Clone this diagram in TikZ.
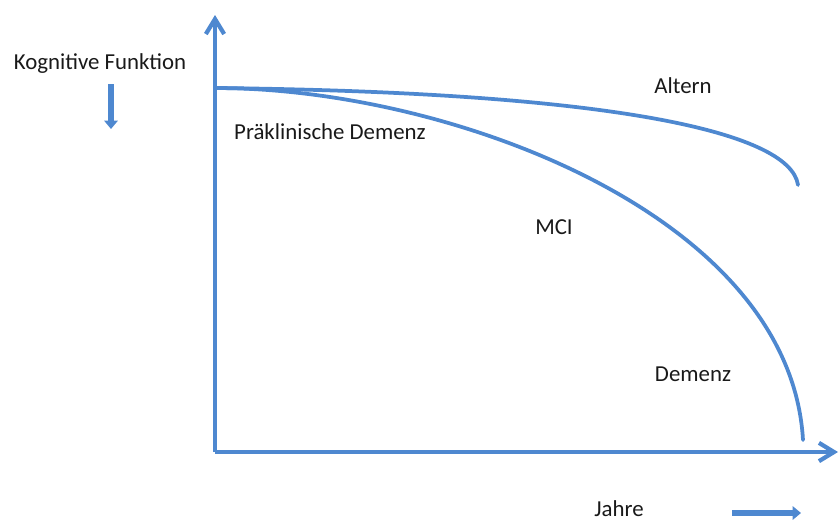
\documentclass[tikz,border=0pt]{standalone}
\usepackage{fontspec}
\setmainfont{Carlito}
\usetikzlibrary{arrows.meta}

\definecolor{curveblue}{RGB}{78,136,208}

\begin{document}
\begin{tikzpicture}[x=0.03cm, y=-0.03cm,
    axis/.style={draw=curveblue, line width=3.6pt, -{Straight Barb[length=4.5mm, width=5.5mm]}},
    curve/.style={draw=curveblue, line width=3.2pt, line cap=round},
    hint/.style={draw=curveblue, line width=5pt, -{Triangle[length=2.5mm, width=4mm]}},
    label/.style={font=\fontsize{19.5}{23}\selectfont, text=black!90, inner sep=1pt}]
    \useasboundingbox (0,0) rectangle (839,523);  % Fixes the page size

    % Points
    \coordinate (origin) at (215,452);  % Corner of the two axes
    \coordinate (ytop) at (215,15);  % Tip of the vertical axis
    \coordinate (xend) at (838,452);  % Tip of the horizontal axis
    \coordinate (start) at (215,88);  % Common start of both curves
    \coordinate (altend) at (798,185);  % End of the ageing curve
    \coordinate (demend) at (803,440);  % End of the dementia curve

    % Axes
    \draw[axis] (origin) -- (ytop);  % Vertical axis
    \draw[axis] (origin) -- (xend);  % Horizontal axis

    % Curves
    \draw[curve] (start) .. controls (600,92) and (790,130) .. (altend);  % Normal ageing
    \draw[curve] (start) .. controls (450,88) and (790,215) .. (demend);  % Dementia

    % Labels
    \node[label] (kogn) at (100,64) {Kognitive Funktion};  % Axis label for the y axis
    \node[label] (altern) at (683,86) {Altern};  % Label of the upper curve
    \node[label] (praekl) at (330,132) {Präklinische Demenz};  % Early stage
    \node[label] (mci) at (554,227) {MCI};  % Middle stage
    \node[label] (demenz) at (693,374) {Demenz};  % Late stage
    \node[label] (jahre) at (619,509) {Jahre};  % Axis label for the x axis

    % Small arrows
    \coordinate (kogntop) at (111,84);  % Upper end of the down arrow
    \coordinate (kognbot) at (111,129);  % Tip of the down arrow
    \coordinate (jahrel) at (732,513);  % Left end of the time arrow
    \coordinate (jahrer) at (801,513);  % Tip of the time arrow
    \draw[hint] (kogntop) -- (kognbot);  % Arrow below the y label
    \draw[hint] (jahrel) -- (jahrer);  % Arrow beside the x label
\end{tikzpicture}
\end{document}
